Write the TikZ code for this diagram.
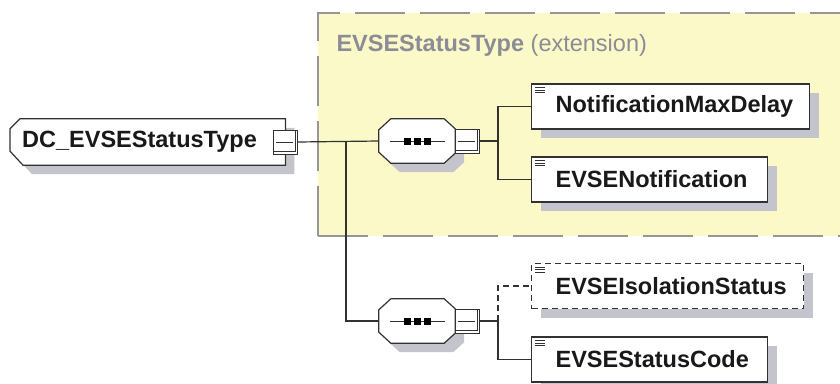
\documentclass[tikz,border=0pt]{standalone}
\usepackage{fontspec}
\setmainfont{Liberation Sans}
\usepackage{xcolor}
\usetikzlibrary{positioning,shadows,backgrounds}
\definecolor{extyellow}{RGB}{251,249,200}
\definecolor{extborder}{RGB}{150,150,150}
\definecolor{titlegray}{RGB}{140,140,150}
\definecolor{shadowgray}{RGB}{196,196,204}
\definecolor{linegray}{RGB}{50,50,50}

\begin{document}
\begin{tikzpicture}[x=1pt, y=-1pt,
  every node/.style={font=\fontsize{23.5}{28}\selectfont\bfseries, text=black!90},
  shade/.style={drop shadow={shadow xshift=9pt, shadow yshift=-9pt, fill=shadowgray, opacity=1}},
  outline/.style={draw=linegray, line width=1.2pt, fill=white, shade},
  ctype/.style={rectangle, text width=275pt, align=left, inner xsep=0pt, minimum height=46pt, execute at begin node={\hspace*{12pt}}},
  comp/.style={rectangle, minimum width=76pt, minimum height=44pt, inner sep=0pt},
  sqbox/.style={rectangle, draw=linegray, line width=1pt, fill=white, minimum size=24pt, inner sep=0pt},
  elem/.style={rectangle, draw=linegray, line width=1.2pt, fill=white, shade, text width=#1, align=left, inner xsep=0pt, minimum height=45pt, execute at begin node={\hspace*{24pt}}},
  conn/.style={draw=linegray, line width=1.2pt},
  icon/.style={draw=linegray, line width=0.7pt}]

\useasboundingbox (0,0) rectangle (840,383);

\node[anchor=base west, text=titlegray, font=\fontsize{23.5}{28}\selectfont] (exttitle) at (333,51) {\textbf{EVSEStatusType} (extension)};

\node[ctype, anchor=west] (main) at (10,142) {DC\_EVSEStatusType};
\node[sqbox] (msq) at (main.east) {};

\node[comp] (comp1) at (417,141) {};
\node[sqbox, right=0pt of comp1] (sq1) {};
\node[comp] (comp2) at (417,321) {};
\node[sqbox, right=0pt of comp2] (sq2) {};

\node[elem=278pt, anchor=west] (nmd) at (531,106.5) {NotificationMaxDelay};
\node[elem=236pt, anchor=west] (notif) at (531,179.5) {EVSENotification};
\node[elem=272pt, anchor=west, dash pattern=on 6pt off 4pt] (iso) at (531,286) {EVSEIsolationStatus};
\node[elem=236pt, anchor=west] (code) at (531,359.5) {EVSEStatusCode};

\begin{pgfonlayer}{background}
\fill[extyellow] (318,13) rectangle (840,236);
\draw[extborder, line width=1.5pt, dash pattern=on 50pt off 15pt] (318,236) -- (318,13) -- (840,13);
\draw[extborder, line width=1.5pt, dash pattern=on 50pt off 15pt] (318,236) -- (840,236);
\draw[outline] ([shift={(10,0)}]main.north west) -- (main.north east) -- (main.south east)
  -- ([shift={(13,0)}]main.south west) -- ([shift={(0,-14)}]main.south west) -- ([shift={(0,10)}]main.north west) -- cycle;
\foreach \c in {comp1,comp2}
  \draw[outline] ([shift={(12,0)}]\c.north west) -- ([shift={(-11,0)}]\c.north east) -- ([shift={(0,10)}]\c.north east)
    -- ([shift={(0,-10)}]\c.south east) -- ([shift={(-11,0)}]\c.south east) -- ([shift={(12,0)}]\c.south west)
    -- ([shift={(0,-11)}]\c.south west) -- ([shift={(0,11)}]\c.north west) -- cycle;
\end{pgfonlayer}

\foreach \s in {msq,sq1,sq2} {
  \draw[icon, line width=0.8pt] ([shift={(3,0)}]\s.west) -- ([shift={(-5,0)}]\s.east);
  \draw[icon, line width=0.8pt] ([shift={(-3,1)}]\s.north east) -- ([shift={(-3,-3)}]\s.south east) -- ([shift={(1,-3)}]\s.south west);
}
\foreach \c in {comp1,comp2} {
  \draw[conn, line width=1pt] ([xshift=-27pt]\c.center) -- ([xshift=28pt]\c.center);
  \foreach \dx in {-10,0,10}
    \fill[black] ([shift={(\dx,0)}]\c.center) ++(-3.5,-3.5) rectangle ++(7,7);
}
\foreach \n in {nmd,notif,iso,code}
  \foreach \dy in {4,6.7,9.4}
    \draw[icon] ([shift={(4,\dy)}]\n.north west) -- ++(10,0);

\coordinate (j1) at (346,141);
\coordinate (j2) at (498,141);
\coordinate (j3) at (498,321);
\draw[conn] (msq.east) -- (comp1.west);
\draw[conn] (j1) |- (comp2.west);
\draw[conn] (sq1.east) -- (j2);
\draw[conn] (j2) |- (nmd.west);
\draw[conn] (j2) |- (notif.west);
\draw[conn] (sq2.east) -- (j3);
\draw[conn, dash pattern=on 6pt off 4pt] (j3) |- (iso.west);
\draw[conn] (j3) |- (code.west);
\end{tikzpicture}
\end{document}
